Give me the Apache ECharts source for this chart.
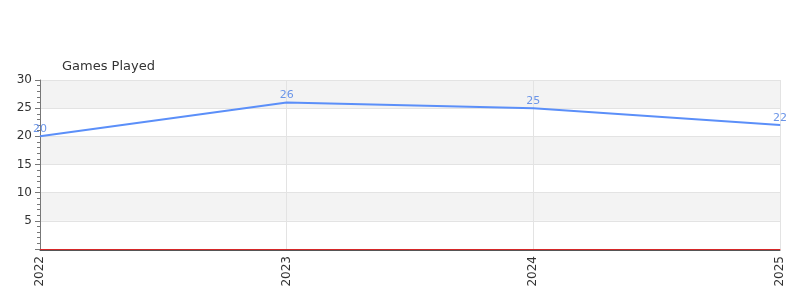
<!DOCTYPE html>
<html><head><meta charset="utf-8">
<script src="https://cdn.jsdelivr.net/npm/echarts@6/dist/echarts.min.js"></script>
<style>html,body{margin:0;padding:0;background:#fff}#c{width:800px;height:300px}</style>
</head><body><div id="c"></div>
<script>
const categories = ['2022', '2023', '2024', '2025'];
const gamesPlayed = [20, 26, 25, 22];
const seriesName = 'Games Played';

const chart = echarts.init(document.getElementById('c'), null, {renderer: 'canvas'});
chart.setOption({
  animation: false,
  textStyle: {fontFamily: 'DejaVu Sans'},
  title: {text: seriesName, left: 57, top: 55, textStyle: {fontSize: 13, fontWeight: 'normal', color: '#333', fontFamily: 'DejaVu Sans'}},
  grid: {left: 40, right: 20, top: 80, bottom: 51, containLabel: false},
  xAxis: {
    type: 'category', data: categories, boundaryGap: false,
    axisLine: {lineStyle: {color: '#d62728', width: 1, shadowColor: '#555', shadowOffsetY: 1, shadowBlur: 0}},
    axisTick: {show: false},
    axisLabel: {rotate: 90, color: '#333', fontSize: 12, margin: 7},
    splitLine: {show: true, lineStyle: {color: '#e3e3e3'}}
  },
  yAxis: {
    type: 'value', min: 0, max: 30, interval: 5,
    axisLine: {show: true, lineStyle: {color: '#777'}},
    axisTick: {show: true, inside: false, length: 5, lineStyle: {color: '#777'}},
    minorTick: {show: true, splitNumber: 5, length: 3, lineStyle: {color: '#777'}},
    axisLabel: {color: '#333', fontSize: 12, showMinLabel: false},
    splitLine: {show: true, lineStyle: {color: '#e3e3e3'}},
    splitArea: {show: true, areaStyle: {color: ['#ffffff', '#f3f3f3']}}
  },
  series: [{
    name: seriesName, type: 'line', data: gamesPlayed,
    symbol: 'circle', symbolSize: 1, showSymbol: true,
    lineStyle: {color: '#5b8ff9', width: 2},
    itemStyle: {color: '#5b8ff9'},
    label: {show: true, position: 'top', color: '#6b95e8', fontSize: 11, distance: 1}
  }]
});
</script></body></html>
